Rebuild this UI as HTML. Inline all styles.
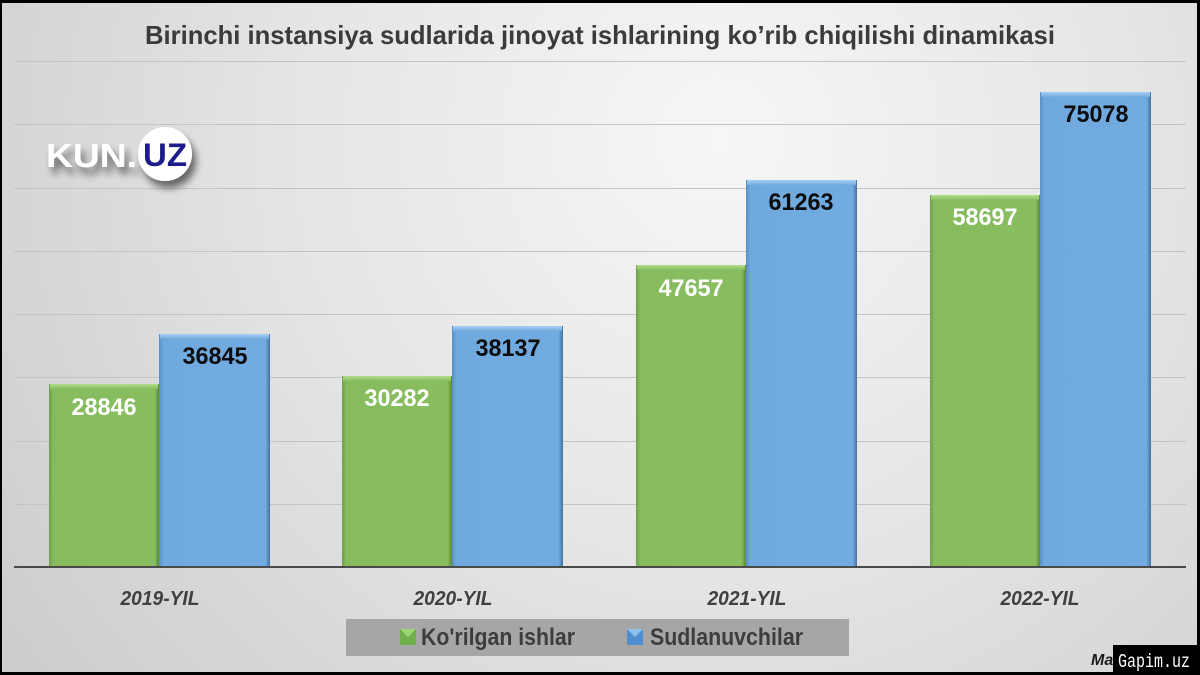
<!DOCTYPE html>
<html><head><meta charset="utf-8"><style>
html,body{margin:0;padding:0;background:#000;}
svg{display:block;}
</style></head><body>
<svg width="1200" height="675" viewBox="0 0 1200 675" xmlns="http://www.w3.org/2000/svg">
<defs>
<radialGradient id="bg" cx="720" cy="140" r="900" gradientUnits="userSpaceOnUse">
<stop offset="0" stop-color="#f6f6f6"/>
<stop offset="0.45" stop-color="#e6e6e6"/>
<stop offset="1" stop-color="#cbcbcb"/>
</radialGradient>
<linearGradient id="gr" x1="0" y1="0" x2="1" y2="0">
<stop offset="0" stop-color="#6f9f4a"/>
<stop offset="0.04" stop-color="#86bc5e"/>
<stop offset="0.96" stop-color="#88be60"/>
<stop offset="1" stop-color="#5b8637"/>
</linearGradient>
<linearGradient id="bl" x1="0" y1="0" x2="1" y2="0">
<stop offset="0" stop-color="#5a8fc4"/>
<stop offset="0.04" stop-color="#6fa9de"/>
<stop offset="0.96" stop-color="#72abe0"/>
<stop offset="1" stop-color="#44709e"/>
</linearGradient>
<linearGradient id="gt" x1="0" y1="0" x2="0" y2="1">
<stop offset="0" stop-color="#b2dc8e"/>
<stop offset="1" stop-color="#88be60"/>
</linearGradient>
<linearGradient id="bt" x1="0" y1="0" x2="0" y2="1">
<stop offset="0" stop-color="#a8cff2"/>
<stop offset="1" stop-color="#72abe0"/>
</linearGradient>
<filter id="sh" x="-30%" y="-30%" width="160%" height="180%">
<feGaussianBlur in="SourceAlpha" stdDeviation="4"/>
<feOffset dx="4" dy="7"/>
<feComponentTransfer><feFuncA type="linear" slope="0.55"/></feComponentTransfer>
<feMerge><feMergeNode/><feMergeNode in="SourceGraphic"/></feMerge>
</filter>
</defs>
<rect x="0" y="0" width="1200" height="675" fill="#000"/>
<rect x="2" y="3" width="1195" height="669" fill="url(#bg)"/>

<text x="600" y="44" text-anchor="middle" font-family="Liberation Sans, sans-serif" font-weight="bold" font-size="26" fill="#3b3b3b" textLength="910" lengthAdjust="spacingAndGlyphs">Birinchi instansiya sudlarida jinoyat ishlarining ko’rib chiqilishi dinamikasi</text>

<g stroke="#c4c4c4" stroke-width="1">
<line x1="14" y1="61.5" x2="1186" y2="61.5"/>
<line x1="14" y1="124.5" x2="1186" y2="124.5"/>
<line x1="14" y1="188.5" x2="1186" y2="188.5"/>
<line x1="14" y1="251.5" x2="1186" y2="251.5"/>
<line x1="14" y1="314.5" x2="1186" y2="314.5"/>
<line x1="14" y1="377.5" x2="1186" y2="377.5"/>
<line x1="14" y1="441.5" x2="1186" y2="441.5"/>
<line x1="14" y1="504.5" x2="1186" y2="504.5"/>
</g>

<!-- bars -->
<g>
<rect x="49" y="384" width="110" height="183" fill="url(#gr)"/>
<rect x="50" y="384" width="108" height="5" fill="url(#gt)"/>
<rect x="159" y="334" width="111" height="233" fill="url(#bl)"/>
<rect x="160" y="334" width="109" height="5" fill="url(#bt)"/>

<rect x="342" y="376" width="110" height="191" fill="url(#gr)"/>
<rect x="343" y="376" width="108" height="5" fill="url(#gt)"/>
<rect x="452" y="326" width="111" height="241" fill="url(#bl)"/>
<rect x="453" y="326" width="109" height="5" fill="url(#bt)"/>

<rect x="636" y="265" width="110" height="302" fill="url(#gr)"/>
<rect x="637" y="265" width="108" height="5" fill="url(#gt)"/>
<rect x="746" y="180" width="111" height="387" fill="url(#bl)"/>
<rect x="747" y="180" width="109" height="5" fill="url(#bt)"/>

<rect x="930" y="195" width="110" height="372" fill="url(#gr)"/>
<rect x="931" y="195" width="108" height="5" fill="url(#gt)"/>
<rect x="1040" y="92" width="111" height="475" fill="url(#bl)"/>
<rect x="1041" y="92" width="109" height="5" fill="url(#bt)"/>
</g>

<line x1="14" y1="567" x2="1186" y2="567" stroke="#4a4a4a" stroke-width="2"/>

<g font-family="Liberation Sans, sans-serif" font-weight="bold" font-size="24" text-anchor="middle">
<text x="104" y="415" fill="#fff" textLength="65" lengthAdjust="spacingAndGlyphs">28846</text>
<text x="215" y="364" fill="#0d0d0d" textLength="65" lengthAdjust="spacingAndGlyphs">36845</text>
<text x="397" y="406" fill="#fff" textLength="65" lengthAdjust="spacingAndGlyphs">30282</text>
<text x="508" y="356" fill="#0d0d0d" textLength="65" lengthAdjust="spacingAndGlyphs">38137</text>
<text x="691" y="296" fill="#fff" textLength="65" lengthAdjust="spacingAndGlyphs">47657</text>
<text x="801" y="210" fill="#0d0d0d" textLength="65" lengthAdjust="spacingAndGlyphs">61263</text>
<text x="985" y="225" fill="#fff" textLength="65" lengthAdjust="spacingAndGlyphs">58697</text>
<text x="1096" y="122" fill="#0d0d0d" textLength="65" lengthAdjust="spacingAndGlyphs">75078</text>
</g>

<g font-family="Liberation Sans, sans-serif" font-weight="bold" font-style="italic" font-size="20" text-anchor="middle" fill="#404040">
<text x="160" y="605" textLength="79" lengthAdjust="spacingAndGlyphs">2019-YIL</text>
<text x="453" y="605" textLength="79" lengthAdjust="spacingAndGlyphs">2020-YIL</text>
<text x="747" y="605" textLength="79" lengthAdjust="spacingAndGlyphs">2021-YIL</text>
<text x="1040" y="605" textLength="79" lengthAdjust="spacingAndGlyphs">2022-YIL</text>
</g>

<!-- legend -->
<rect x="346" y="619" width="503" height="37" fill="#a6a6a6"/>
<rect x="400" y="629" width="16" height="16" fill="#6fb04a"/>
<polygon points="400,629 416,629 408,637" fill="#9fd57a"/>
<rect x="627" y="629" width="16" height="16" fill="#4f8fcf"/>
<polygon points="627,629 643,629 635,637" fill="#8fc0ee"/>
<g font-family="Liberation Sans, sans-serif" font-weight="bold" font-size="24" fill="#3d3d3d">
<text x="421" y="645" textLength="154" lengthAdjust="spacingAndGlyphs">Ko'rilgan ishlar</text>
<text x="650" y="645" textLength="153" lengthAdjust="spacingAndGlyphs">Sudlanuvchilar</text>
</g>

<!-- logo -->
<g filter="url(#sh)">
<text x="46" y="167" font-family="Liberation Sans, sans-serif" font-weight="bold" font-size="33" fill="#ffffff" textLength="91" lengthAdjust="spacingAndGlyphs">KUN.</text>
<circle cx="165" cy="154" r="27" fill="#ffffff"/>
</g>
<text x="165" y="166" text-anchor="middle" font-family="Liberation Sans, sans-serif" font-weight="bold" font-size="32" fill="#1c1c8a" textLength="44" lengthAdjust="spacingAndGlyphs">UZ</text>

<!-- bottom right -->
<text x="1091" y="665" font-family="Liberation Sans, sans-serif" font-weight="bold" font-style="italic" font-size="16" fill="#1a1a1a">Ma</text>
<rect x="1113" y="645" width="87" height="30" fill="#000"/>
<text x="1118" y="667" font-family="Liberation Mono, monospace" font-size="19" fill="#ffffff" textLength="72" lengthAdjust="spacingAndGlyphs">Gapim.uz</text>
</svg>
</body></html>
